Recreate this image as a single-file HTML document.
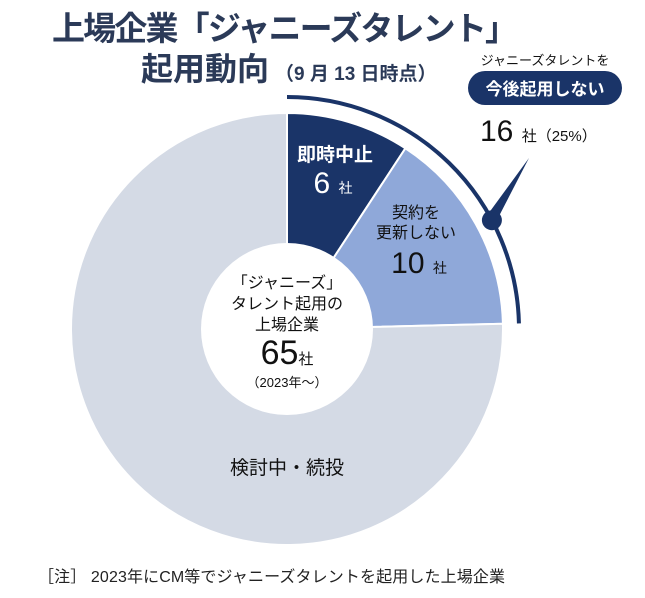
<!DOCTYPE html>
<html><head><meta charset="utf-8">
<style>
body{margin:0;background:#fff;}
svg{display:block;font-family:"Liberation Sans","Noto Sans CJK JP",sans-serif;}
</style></head>
<body>
<svg id="chart" width="645" height="598" viewBox="0 0 645 598">
<text x="52" y="40" font-size="33" font-weight="bold" fill="#2b3a58" textLength="466">上場企業「ジャニーズタレント」</text>
<text x="141" y="80" font-size="32" font-weight="bold" fill="#2b3a58">起用動向<tspan font-size="19" dx="6">（9 月 13 日時点）</tspan></text>
<g id="slices"></g>
<circle cx="287" cy="329" r="86" fill="#fff"/>
<text text-anchor="middle" font-size="16" fill="#111">
<tspan x="287" y="288">「ジャニーズ」</tspan><tspan x="287" y="309">タレント起用の</tspan><tspan x="287" y="330">上場企業</tspan></text>
<text x="287" y="364" text-anchor="middle" font-size="34" fill="#111">65<tspan font-size="15">社</tspan></text>
<text x="287" y="387" text-anchor="middle" font-size="13" fill="#111">（2023年～）</text>
<text x="335" y="161" text-anchor="middle" font-size="19" font-weight="bold" fill="#fff">即時中止</text>
<text x="333" y="193" text-anchor="middle" font-size="30" fill="#fff">6 <tspan font-size="14">社</tspan></text>
<text text-anchor="middle" font-size="16" fill="#111"><tspan x="416" y="218">契約を</tspan><tspan x="416" y="238">更新しない</tspan></text>
<text x="419" y="273" text-anchor="middle" font-size="30" fill="#111">10 <tspan font-size="14">社</tspan></text>
<text x="287" y="474" text-anchor="middle" font-size="19" fill="#111">検討中・続投</text>
<g id="outline"></g>
<text x="545" y="65" text-anchor="middle" font-size="13" fill="#111">ジャニーズタレントを</text>
<rect x="468" y="71" width="154" height="34" rx="17" fill="#1a3468"/>
<text x="545" y="95" text-anchor="middle" font-size="17" font-weight="bold" fill="#fff">今後起用しない</text>
<text x="480" y="141" font-size="30" fill="#111">16 <tspan font-size="15">社（25%）</tspan></text>
<text x="38" y="582" font-size="16" fill="#222" textLength="467">［注］ 2023年にCM等でジャニーズタレントを起用した上場企業</text>
</svg>
<script>
const categories = ["即時中止", "契約を更新しない", "検討中・続投"];
const values = [6, 10, 49];
const colors = ["#1a3468", "#8fa8d9", "#d4dae5"];
const NS = "http://www.w3.org/2000/svg";
const cx = 287, cy = 329, R = 216;
const total = values.reduce((a, b) => a + b, 0);
function pt(frac, r) { const a = frac * 2 * Math.PI; return [cx + r * Math.sin(a), cy - r * Math.cos(a)]; }
const g = document.getElementById("slices");
let acc = 0;
values.forEach((v, i) => {
  const f0 = acc / total, f1 = (acc + v) / total; acc += v;
  const [x0, y0] = pt(f0, R), [x1, y1] = pt(f1, R);
  const large = (f1 - f0) > 0.5 ? 1 : 0;
  const p = document.createElementNS(NS, "path");
  p.setAttribute("d", `M${cx},${cy}L${x0},${y0}A${R},${R} 0 ${large} 1 ${x1},${y1}Z`);
  p.setAttribute("fill", colors[i]);
  p.setAttribute("stroke", "#fff");
  p.setAttribute("stroke-width", "2");
  
  
  g.appendChild(p);
});
const og = document.getElementById("outline");
const fEnd = (values[0] + values[1]) / total;
const Ro = 232;
const [ax0, ay0] = pt(0, Ro), [ax1, ay1] = pt(fEnd, Ro);
const arc = document.createElementNS(NS, "path");
arc.setAttribute("d", `M${ax0},${ay0}A${Ro},${Ro} 0 0 1 ${ax1},${ay1}`);
arc.setAttribute("fill", "none");
arc.setAttribute("stroke", "#1a3468");
arc.setAttribute("stroke-width", "4");


og.appendChild(arc);
const [dx, dy] = pt(fEnd * 0.7, Ro);
const tri = document.createElementNS(NS, "polygon");
tri.setAttribute("points", `${dx - 4},${dy - 6} ${dx + 6},${dy - 2} 529,158`);
tri.setAttribute("fill", "#1a3468");


og.appendChild(tri);
const dot = document.createElementNS(NS, "circle");
dot.setAttribute("cx", dx); dot.setAttribute("cy", dy); dot.setAttribute("r", "10");
dot.setAttribute("fill", "#1a3468");


og.appendChild(dot);
</script>
</body></html>
